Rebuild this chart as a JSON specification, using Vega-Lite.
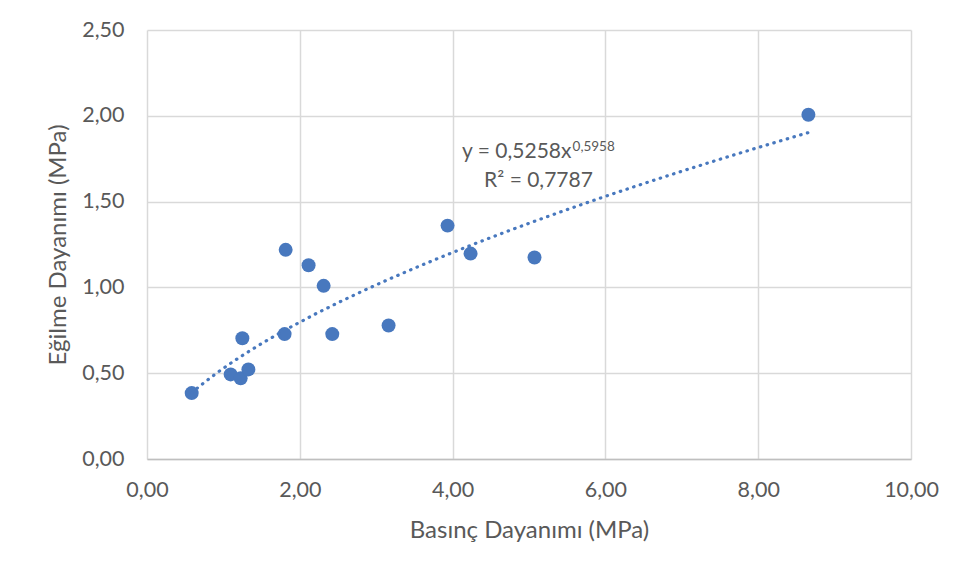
{
  "$schema": "https://vega.github.io/schema/vega-lite/v6.json",
  "width": 764,
  "height": 429,
  "autosize": {"type": "none"},
  "padding": {"left": 147, "top": 30, "right": 57, "bottom": 119},
  "background": "white",
  "config": {
    "view": {"stroke": null},
    "font": "Lato",
    "axis": {
      "labelFont": "Lato",
      "titleFont": "Lato",
      "labelColor": "#595959",
      "titleColor": "#595959",
      "labelFontSize": 21.5,
      "titleFontSize": 24,
      "titleFontWeight": "normal",
      "gridColor": "#d9d9d9",
      "gridWidth": 1.5,
      "ticks": false,
      "labelFlush": false
    }
  },
  "datasets": {
    "pts": [
      {"x": 0.585, "y": 0.384},
      {"x": 1.095, "y": 0.493},
      {"x": 1.226, "y": 0.470},
      {"x": 1.327, "y": 0.522},
      {"x": 1.248, "y": 0.704},
      {"x": 1.801, "y": 0.728},
      {"x": 1.815, "y": 1.219},
      {"x": 2.115, "y": 1.129},
      {"x": 2.312, "y": 1.009},
      {"x": 2.425, "y": 0.728},
      {"x": 3.162, "y": 0.778},
      {"x": 3.934, "y": 1.360},
      {"x": 4.235, "y": 1.197},
      {"x": 5.072, "y": 1.174},
      {"x": 8.657, "y": 2.006}
    ]
  },
  "layer": [
    {
      "data": {"name": "pts"},
      "mark": {"type": "point", "filled": true, "opacity": 1, "size": 195, "color": "#4878be", "shape": "circle"},
      "encoding": {
        "x": {
          "field": "x", "type": "quantitative",
          "scale": {"domain": [0, 10], "nice": false},
          "axis": {
            "title": "Basınç Dayanımı (MPa)",
            "values": [0, 2, 4, 6, 8, 10],
            "labelExpr": "replace(format(datum.value, '.2f'), '.', ',')",
            "labelPadding": 20,
            "domainColor": "#bfbfbf",
            "domainWidth": 1.5,
            "titleY": 71,
            "titleBaseline": "middle"
          }
        },
        "y": {
          "field": "y", "type": "quantitative",
          "scale": {"domain": [0, 2.5], "nice": false},
          "axis": {
            "title": "Eğilme Dayanımı (MPa)",
            "values": [0, 0.5, 1, 1.5, 2, 2.5],
            "labelExpr": "replace(format(datum.value, '.2f'), '.', ',')",
            "labelPadding": 23,
            "domain": false,
            "titleX": -89,
            "titleBaseline": "middle"
          }
        }
      }
    },
    {
      "data": {"name": "pts"},
      "transform": [{"regression": "y", "on": "x", "method": "pow"}],
      "mark": {"type": "line", "color": "#4878be", "strokeWidth": 3.2, "strokeDash": [0.5, 6.5], "strokeCap": "round"},
      "encoding": {
        "x": {"field": "x", "type": "quantitative"},
        "y": {"field": "y", "type": "quantitative"}
      }
    },
    {
      "data": {"values": [{"label": "y = 0,5258x"}]},
      "mark": {"type": "text", "align": "right", "baseline": "alphabetic", "fontSize": 21, "color": "#595959", "font": "Lato"},
      "encoding": {
        "x": {"datum": 5.556, "type": "quantitative"},
        "y": {"datum": 1.754, "type": "quantitative"},
        "text": {"field": "label"}
      }
    },
    {
      "data": {"values": [{"label": "0,5958"}]},
      "mark": {"type": "text", "align": "left", "baseline": "alphabetic", "fontSize": 13.5, "color": "#595959", "font": "Lato"},
      "encoding": {
        "x": {"datum": 5.57, "type": "quantitative"},
        "y": {"datum": 1.797, "type": "quantitative"},
        "text": {"field": "label"}
      }
    },
    {
      "data": {"values": [{"label": "R² = 0,7787"}]},
      "mark": {"type": "text", "align": "center", "baseline": "alphabetic", "fontSize": 21, "color": "#595959", "font": "Lato"},
      "encoding": {
        "x": {"datum": 5.124, "type": "quantitative"},
        "y": {"datum": 1.583, "type": "quantitative"},
        "text": {"field": "label"}
      }
    }
  ]
}
